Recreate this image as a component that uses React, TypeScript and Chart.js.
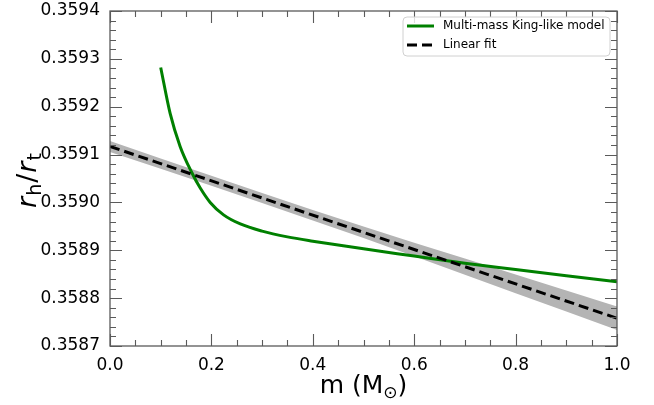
import React, { useEffect, useRef } from "react";
import { Chart, registerables } from "chart.js";

Chart.register(...registerables);

// Multi-mass King-like model curve
const M_MODEL = [0.1, 0.1186, 0.1383, 0.1615, 0.178, 0.1976, 0.224, 0.257, 0.3, 0.35, 0.4, 0.45, 0.5, 0.6, 0.7, 0.8, 0.9, 1.0];
const R_MODEL = [0.359282, 0.359186, 0.359117, 0.359062, 0.35903, 0.359, 0.358974, 0.358955, 0.35894, 0.358928, 0.358919, 0.358911, 0.358903, 0.358888, 0.358873, 0.35886, 0.358847, 0.358834];

// Linear fit
const M_FIT = [0, 1];
const R_FIT = [0.359117, 0.358758];

// Confidence band of the fit
const M_BAND = [0, 0.1, 0.2, 0.3, 0.4, 0.5, 0.6, 0.7, 0.8, 0.9, 1.0];
const BAND_UPPER = [0.3591285, 0.3590919, 0.3590556, 0.3590198, 0.3589844, 0.3589495, 0.3589156, 0.3588827, 0.3588493, 0.3588159, 0.3587824];
const BAND_LOWER = [0.3591055, 0.3590703, 0.3590348, 0.3589988, 0.3589624, 0.3589255, 0.3588876, 0.3588487, 0.3588103, 0.3587719, 0.3587336];

// Tick labels
const X_TICKS = [0, 0.2, 0.4, 0.6, 0.8, 1.0];
const Y_TICKS = [0.3587, 0.3588, 0.3589, 0.359, 0.3591, 0.3592, 0.3593, 0.3594];

const LEGEND_LABELS = ["Multi-mass King-like model", "Linear fit"];
const GREEN = "#008000";
const FONT = "'DejaVu Sans', sans-serif";

const pts = (xs: number[], ys: number[]) => xs.map((x, i) => ({ x, y: ys[i] }));

const decorPlugin = {
  id: "decor",
  afterDraw(chart: any) {
    const { ctx, chartArea, scales } = chart;
    const { left, right, top, bottom } = chartArea;
    const xs = scales.x;
    const ys = scales.y;
    ctx.save();
    // frame
    ctx.strokeStyle = "#5a5a5a";
    ctx.lineWidth = 1.3;
    ctx.strokeRect(left, top, right - left, bottom - top);
    // ticks
    ctx.lineWidth = 1.1;
    ctx.beginPath();
    const xMinor: number[] = [];
    for (let i = 0; i < X_TICKS.length - 1; i++) {
      const a = X_TICKS[i], b = X_TICKS[i + 1];
      for (let k = 1; k < 4; k++) xMinor.push(a + ((b - a) * k) / 4);
    }
    const yMinor: number[] = [];
    for (let i = 0; i < Y_TICKS.length - 1; i++) {
      const a = Y_TICKS[i], b = Y_TICKS[i + 1];
      for (let k = 1; k < 5; k++) yMinor.push(a + ((b - a) * k) / 5);
    }
    const xt = (v: number, len: number) => {
      const p = Math.round(xs.getPixelForValue(v)) + 0.5;
      ctx.moveTo(p, bottom); ctx.lineTo(p, bottom - len);
      ctx.moveTo(p, top); ctx.lineTo(p, top + len);
    };
    const yt = (v: number, len: number) => {
      const p = Math.round(ys.getPixelForValue(v)) + 0.5;
      ctx.moveTo(left, p); ctx.lineTo(left + len, p);
      ctx.moveTo(right, p); ctx.lineTo(right - len, p);
    };
    X_TICKS.forEach((v) => xt(v, 12));
    xMinor.forEach((v) => xt(v, 6));
    Y_TICKS.forEach((v) => yt(v, 12));
    yMinor.forEach((v) => yt(v, 6));
    ctx.stroke();

    // x title: m (M_sun)
    ctx.fillStyle = "#000";
    ctx.textBaseline = "alphabetic";
    const big = `25px ${FONT}`;
    const small = `17px ${FONT}`;
    ctx.font = big;
    const p1 = "m (M";
    const p3 = ")";
    const w1 = ctx.measureText(p1).width;
    const w3 = ctx.measureText(p3).width;
    ctx.font = small;
    const sub = "\u2299";
    const w2 = ctx.measureText(sub).width;
    const total = w1 + w2 + w3;
    let cx = (left + right) / 2 - total / 2;
    const base = 393;
    ctx.font = big;
    ctx.textAlign = "left";
    ctx.fillText(p1, cx, base);
    cx += w1;
    ctx.font = small;
    ctx.fillText(sub, cx, base + 5);
    cx += w2;
    ctx.font = big;
    ctx.fillText(p3, cx, base);

    // y title: r_h / r_t
    ctx.save();
    ctx.translate(36, 180);
    ctx.rotate(-Math.PI / 2);
    const it = `italic 27px ${FONT}`;
    const reg = `27px ${FONT}`;
    const sm = `19px ${FONT}`;
    const parts: [string, string, number][] = [
      ["r", it, 0], ["h", sm, 5], ["/", reg, 0], ["r", it, 0], ["t", sm, 5],
    ];
    let tw = 0;
    const widths = parts.map(([t, f]) => { ctx.font = f; const w = ctx.measureText(t).width + 1; tw += w; return w; });
    let px = -tw / 2;
    parts.forEach(([t, f, dy], i) => {
      ctx.font = f;
      ctx.fillText(t, px, dy);
      px += widths[i];
    });
    ctx.restore();

    // legend
    const bx = 403, by = 17, bw = 207, bh = 39;
    ctx.beginPath();
    const r = 4;
    ctx.moveTo(bx + r, by);
    ctx.arcTo(bx + bw, by, bx + bw, by + bh, r);
    ctx.arcTo(bx + bw, by + bh, bx, by + bh, r);
    ctx.arcTo(bx, by + bh, bx, by, r);
    ctx.arcTo(bx, by, bx + bw, by, r);
    ctx.closePath();
    ctx.fillStyle = "rgba(255,255,255,0.8)";
    ctx.fill();
    ctx.strokeStyle = "#d0d0d0";
    ctx.lineWidth = 1;
    ctx.stroke();

    ctx.lineWidth = 3;
    ctx.strokeStyle = GREEN;
    ctx.setLineDash([]);
    ctx.beginPath();
    ctx.moveTo(407, 26); ctx.lineTo(434, 26);
    ctx.stroke();
    ctx.strokeStyle = "#000";
    ctx.setLineDash([10, 5]);
    ctx.beginPath();
    ctx.moveTo(407, 45); ctx.lineTo(434, 45);
    ctx.stroke();
    ctx.setLineDash([]);
    ctx.fillStyle = "#000";
    ctx.font = `12px ${FONT}`;
    ctx.textBaseline = "middle";
    ctx.fillText(LEGEND_LABELS[0], 443, 26);
    ctx.fillText(LEGEND_LABELS[1], 443, 45);
    ctx.restore();
  },
};

export default function App() {
  const ref = useRef<HTMLCanvasElement>(null);
  useEffect(() => {
    document.body.style.margin = "0";
    const canvas = ref.current!;
    const chart = new Chart(canvas, {
      type: "line",
      data: {
        datasets: [
          {
            label: LEGEND_LABELS[1],
            data: pts(M_FIT, R_FIT),
            borderColor: "#000",
            borderWidth: 3,
            borderDash: [10, 5],
            pointRadius: 0,
            fill: false,
            order: 0,
          },
          {
            label: LEGEND_LABELS[0],
            data: pts(M_MODEL, R_MODEL),
            borderColor: GREEN,
            borderWidth: 3,
            pointRadius: 0,
            cubicInterpolationMode: "monotone",
            fill: false,
            order: 1,
          },
          {
            label: "band upper",
            data: pts(M_BAND, BAND_UPPER),
            borderWidth: 0,
            borderColor: "rgba(0,0,0,0)",
            backgroundColor: "#b4b4b4",
            pointRadius: 0,
            fill: "+1",
            order: 2,
          },
          {
            label: "band lower",
            data: pts(M_BAND, BAND_LOWER),
            borderWidth: 0,
            borderColor: "rgba(0,0,0,0)",
            pointRadius: 0,
            fill: false,
            order: 3,
          },
        ],
      },
      options: {
        responsive: false,
        animation: false,
        layout: { padding: { left: 0, right: 37, top: 11, bottom: 0 } },
        plugins: { legend: { display: false }, tooltip: { enabled: false } },
        scales: {
          x: {
            type: "linear",
            min: 0,
            max: 1,
            grid: { display: false, drawTicks: false },
            border: { display: false },
            afterBuildTicks: (s: any) => { s.ticks = X_TICKS.map((v) => ({ value: v })); },
            afterFit: (s: any) => { s.height = 59; s.paddingLeft = 0; s.paddingRight = 0; },
            ticks: {
              padding: 9,
              color: "#000",
              font: { family: FONT, size: 17 },
              maxRotation: 0,
              callback: (v: any) => Number(v).toFixed(1),
            },
          },
          y: {
            type: "linear",
            min: 0.3587,
            max: 0.3594,
            grid: { display: false, drawTicks: false },
            border: { display: false },
            afterBuildTicks: (s: any) => { s.ticks = Y_TICKS.map((v) => ({ value: v })); },
            afterFit: (s: any) => { s.width = 110; s.paddingTop = 0; s.paddingBottom = 0; },
            ticks: {
              padding: 10,
              color: "#000",
              font: { family: FONT, size: 17 },
              callback: (v: any) => Number(v).toFixed(4),
            },
          },
        },
      },
      plugins: [decorPlugin],
    });
    return () => chart.destroy();
  }, []);
  return (
    <div style={{ width: 654, height: 405 }}>
      <canvas ref={ref} width={654} height={405} style={{ display: "block" }} />
    </div>
  );
}
